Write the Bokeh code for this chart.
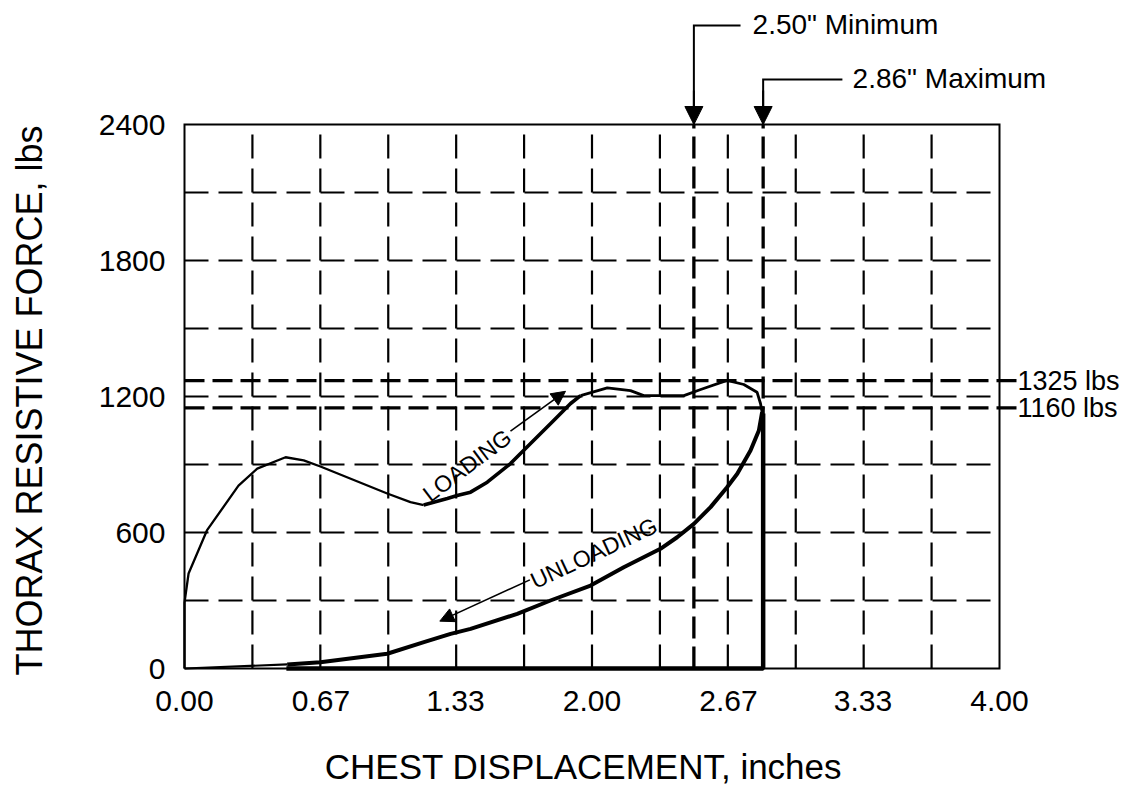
from bokeh.plotting import figure
from bokeh.models import Range1d, FixedTicker, Arrow, NormalHead, Label, NumeralTickFormatter
from bokeh.embed import file_html
from bokeh.resources import INLINE

FONT = "Liberation Sans"

# ---- axes / grid ----
x_ticks = [0.00, 0.67, 1.33, 2.00, 2.67, 3.33, 4.00]
y_ticks = [0, 600, 1200, 1800, 2400]
grid_x = [1/3, 2/3, 1.0, 4/3, 5/3, 2.0, 7/3, 8/3, 3.0, 10/3, 11/3]
grid_y = [300, 600, 900, 1200, 1500, 1800, 2100]
x_max_axis = 4.0
y_max_axis = 2400
x_title = "CHEST DISPLACEMENT, inches"
y_title = "THORAX RESISTIVE FORCE, lbs"

# ---- data (inches, lbs) ----
loading_thin_x = [0.000, 0.000, 0.020, 0.110, 0.265, 0.357, 0.496, 0.585, 0.667, 0.995, 1.109, 1.174]
loading_thin_y = [0, 291, 419, 609, 807, 882, 932, 918, 891, 772, 734, 721]
loading_mid_x = [1.174, 1.290, 1.338, 1.404, 1.486, 1.600, 1.680, 1.796, 1.895, 1.944]
loading_mid_y = [721, 750, 763, 778, 822, 904, 976, 1080, 1169, 1204]
loading_top_x = [1.944, 2.075, 2.189, 2.254, 2.451, 2.530, 2.663, 2.745, 2.810, 2.827, 2.835]
loading_top_y = [1204, 1238, 1226, 1204, 1204, 1230, 1271, 1253, 1219, 1169, 1131]
unloading_x = [2.835, 2.819, 2.778, 2.713, 2.663, 2.582, 2.500, 2.418, 2.336, 2.156, 1.993,
               1.796, 1.633, 1.404, 1.306, 1.175, 0.995, 0.667, 0.504]
unloading_y = [1131, 1050, 962, 859, 800, 712, 638, 579, 528, 447, 366,
               300, 241, 175, 153, 116, 65, 28, 18]
unloading_tail_x = [0.504, 0.000]
unloading_tail_y = [18, 0]
base_x = [0.50, 2.84, 2.84]
base_y = [0, 0, 1125]

# reference limits
min_disp = 2.50
max_disp = 2.84
force_hi = 1270   # drawn line labelled "1325 lbs"
force_lo = 1150   # drawn line labelled "1160 lbs"
force_line_end = 4.085
force_hi_label = "1325 lbs"
force_lo_label = "1160 lbs"
min_label = '2.50" Minimum'
max_label = '2.86" Maximum'
lead_min_y = 2837
lead_min_x_end = 2.729
lead_max_y = 2599
lead_max_x_end = 3.229

# ---- layout (pixels): the plot box sits at these canvas pixels ----
W, H = 1130, 785
PX_L, PX_R, PX_T, PX_B = 184, 999, 124, 668
sx = (PX_R - PX_L) / x_max_axis
sy = (PX_B - PX_T) / y_max_axis
x_range = Range1d(-PX_L / sx, (W - PX_L) / sx)
y_range = Range1d(-(H - PX_B) / sy, PX_B / sy)

p = figure(width=W, height=H, x_range=x_range, y_range=y_range,
           output_backend="svg", toolbar_location=None,
           min_border_left=0, min_border_right=0, min_border_top=0, min_border_bottom=0)
p.background_fill_color = "white"
p.border_fill_color = "white"
p.outline_line_color = None
p.xgrid.visible = False
p.ygrid.visible = False

p.xaxis.ticker = FixedTicker(ticks=x_ticks)
p.xaxis.formatter = NumeralTickFormatter(format="0.00")
p.yaxis.ticker = FixedTicker(ticks=y_ticks)
p.xaxis.bounds = (0, x_max_axis)
p.yaxis.bounds = (0, y_max_axis)
p.xaxis.fixed_location = 0
p.yaxis.fixed_location = 0
for ax in (p.xaxis[0], p.yaxis[0]):
    ax.axis_line_color = None
    ax.major_tick_line_color = None
    ax.minor_tick_line_color = None
    ax.major_tick_out = 0
    ax.major_tick_in = 0
    ax.major_label_text_font = FONT
    ax.major_label_text_font_size = "30px"
    ax.major_label_text_color = "black"
p.xaxis.major_label_standoff = 22
p.yaxis.major_label_standoff = 19

# axis titles
p.add_layout(Label(x=(583 - PX_L) / sx, y=-(766 - PX_B) / sy, text=x_title,
                   text_align="center", text_baseline="middle",
                   text_font=FONT, text_font_size="35px", text_color="black"))
p.add_layout(Label(x=-(PX_L - 29) / sx, y=(PX_B - 400) / sy, text=y_title, angle=90, angle_units="deg",
                   text_align="center", text_baseline="middle",
                   text_font=FONT, text_font_size="36px", text_color="black"))

# grid (dashed) limited to the plot box
p.segment(x0=grid_x, y0=[0] * len(grid_x), x1=grid_x, y1=[y_max_axis] * len(grid_x),
          line_color="black", line_width=2.2, line_dash="24 10")
p.segment(x0=[0] * len(grid_y), y0=grid_y, x1=[x_max_axis] * len(grid_y), y1=grid_y,
          line_color="black", line_width=2.2, line_dash="24 10")

# plot box
p.line([0, x_max_axis, x_max_axis, 0, 0], [0, 0, y_max_axis, y_max_axis, 0],
       line_color="black", line_width=2, line_join="miter")

# reference lines
p.segment(x0=[min_disp, max_disp], y0=[0, 0], x1=[min_disp, max_disp], y1=[y_max_axis, y_max_axis],
          line_color="black", line_width=3.3, line_dash="22 8")
p.segment(x0=[0, 0], y0=[force_hi, force_lo], x1=[force_line_end, force_line_end], y1=[force_hi, force_lo],
          line_color="black", line_width=3.3, line_dash="20 8")
p.add_layout(Label(x=force_line_end + 0.003, y=force_hi, text=force_hi_label, text_align="left",
                   text_baseline="middle", text_font=FONT, text_font_size="27px", text_color="black"))
p.add_layout(Label(x=force_line_end + 0.003, y=force_lo, text=force_lo_label, text_align="left",
                   text_baseline="middle", text_font=FONT, text_font_size="27px", text_color="black"))

# curves
p.line(loading_thin_x, loading_thin_y, line_color="black", line_width=2.3)
p.line(loading_mid_x, loading_mid_y, line_color="black", line_width=3.6)
p.line(loading_top_x, loading_top_y, line_color="black", line_width=2.8)
p.line(unloading_x, unloading_y, line_color="black", line_width=4.0, line_join="round")
p.line(unloading_tail_x, unloading_tail_y, line_color="black", line_width=2.2)
p.line(base_x, base_y, line_color="black", line_width=4.5)

# leaders for min / max displacement
p.line([lead_min_x_end, min_disp, min_disp], [lead_min_y, lead_min_y, y_max_axis],
       line_color="black", line_width=2, line_join="miter")
p.line([lead_max_x_end, max_disp, max_disp], [lead_max_y, lead_max_y, y_max_axis],
       line_color="black", line_width=2, line_join="miter")
for xv in (min_disp, max_disp):
    p.add_layout(Arrow(x_start=xv, y_start=y_max_axis + 150, x_end=xv, y_end=y_max_axis,
                       end=NormalHead(size=18, fill_color="black", line_color="black"),
                       line_color="black", line_width=2))
p.add_layout(Label(x=2.788, y=2841, text=min_label, text_align="left", text_baseline="middle",
                   text_font=FONT, text_font_size="28px", text_color="black"))
p.add_layout(Label(x=3.279, y=2601, text=max_label, text_align="left", text_baseline="middle",
                   text_font=FONT, text_font_size="28px", text_color="black"))

# loading / unloading arrows and texts
p.add_layout(Arrow(x_start=1.600, y_start=1047, x_end=1.870, y_end=1223,
                   end=NormalHead(size=14, fill_color="black", line_color="black"),
                   line_color="black", line_width=1.6))
p.add_layout(Arrow(x_start=1.695, y_start=391, x_end=1.253, y_end=209,
                   end=NormalHead(size=14, fill_color="black", line_color="black"),
                   line_color="black", line_width=1.6))
p.add_layout(Label(x=1.387, y=896, text="LOADING", angle=37, angle_units="deg",
                   text_align="center", text_baseline="middle",
                   text_font=FONT, text_font_size="23px", text_color="black"))
p.add_layout(Label(x=2.009, y=509, text="UNLOADING", angle=25, angle_units="deg",
                   text_align="center", text_baseline="middle",
                   text_font=FONT, text_font_size="23px", text_color="black"))

open("out.html", "w").write(file_html(p, INLINE))
